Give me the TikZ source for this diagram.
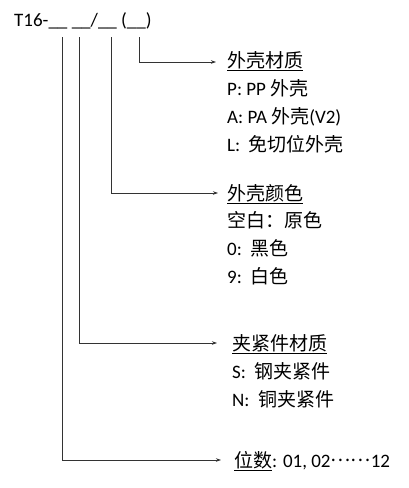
\documentclass[tikz,border=0pt]{standalone}
\usepackage{fontspec}
\setmainfont{Carlito}
\newfontfamily\cjk{Noto Sans CJK SC}
\usetikzlibrary{arrows.meta}
\begin{document}
\begin{tikzpicture}[x=1pt,y=-1pt,
  lbl/.style={anchor=base west,inner sep=0pt,font=\fontsize{19}{22}\selectfont},
  conn/.style={line width=0.8pt,draw=black!80,-{Stealth[length=5pt,width=3.5pt]}}]
\useasboundingbox[fill=white] (0,0) rectangle (409,488);
% header
\node[lbl] (head) at (14,26) {T16-\_\_ \_\_/\_\_ (\_\_)};
\coordinate (v1) at (62,37);
\coordinate (v2) at (79,37);
\coordinate (v3) at (111,37);
\coordinate (v4) at (139,37);
\coordinate (e4) at (216,62);
\coordinate (e3) at (218,193);
\coordinate (e2) at (217,343);
\coordinate (e1) at (221,460);
% group 1
\node[lbl] (g1t) at (227,67) {\underline{\cjk 外壳材质}};
\node[lbl] (g1a) at (227,95) {P: PP {\cjk 外壳}};
\node[lbl] (g1b) at (227,123) {A: PA {\cjk 外壳}(V2)};
\node[lbl] (g1c) at (227,151) {L:\ \ {\cjk 免切位外壳}};
% group 2
\node[lbl] (g2t) at (227,200) {\underline{\cjk 外壳颜色}};
\node[lbl] (g2a) at (227,227) {\cjk 空白：原色};
\node[lbl] (g2b) at (227,255) {0:\ \ {\cjk 黑色}};
\node[lbl] (g2c) at (227,283) {9:\ \ {\cjk 白色}};
% group 3
\node[lbl] (g3t) at (232,350) {\underline{\cjk 夹紧件材质}};
\node[lbl] (g3a) at (232,378) {S:\ \ {\cjk 钢夹紧件}};
\node[lbl] (g3b) at (232,406) {N:\ \ {\cjk 铜夹紧件}};
% group 4
\node[lbl] (g4t) at (234,467) {\underline{\cjk 位数}: 01, 02{\cjk\raisebox{0.3em}{⋯⋯}}12};
% connectors
\draw[conn] (v4) |- (e4);
\draw[conn] (v3) |- (e3);
\draw[conn] (v2) |- (e2);
\draw[conn] (v1) |- (e1);
\end{tikzpicture}
\end{document}
